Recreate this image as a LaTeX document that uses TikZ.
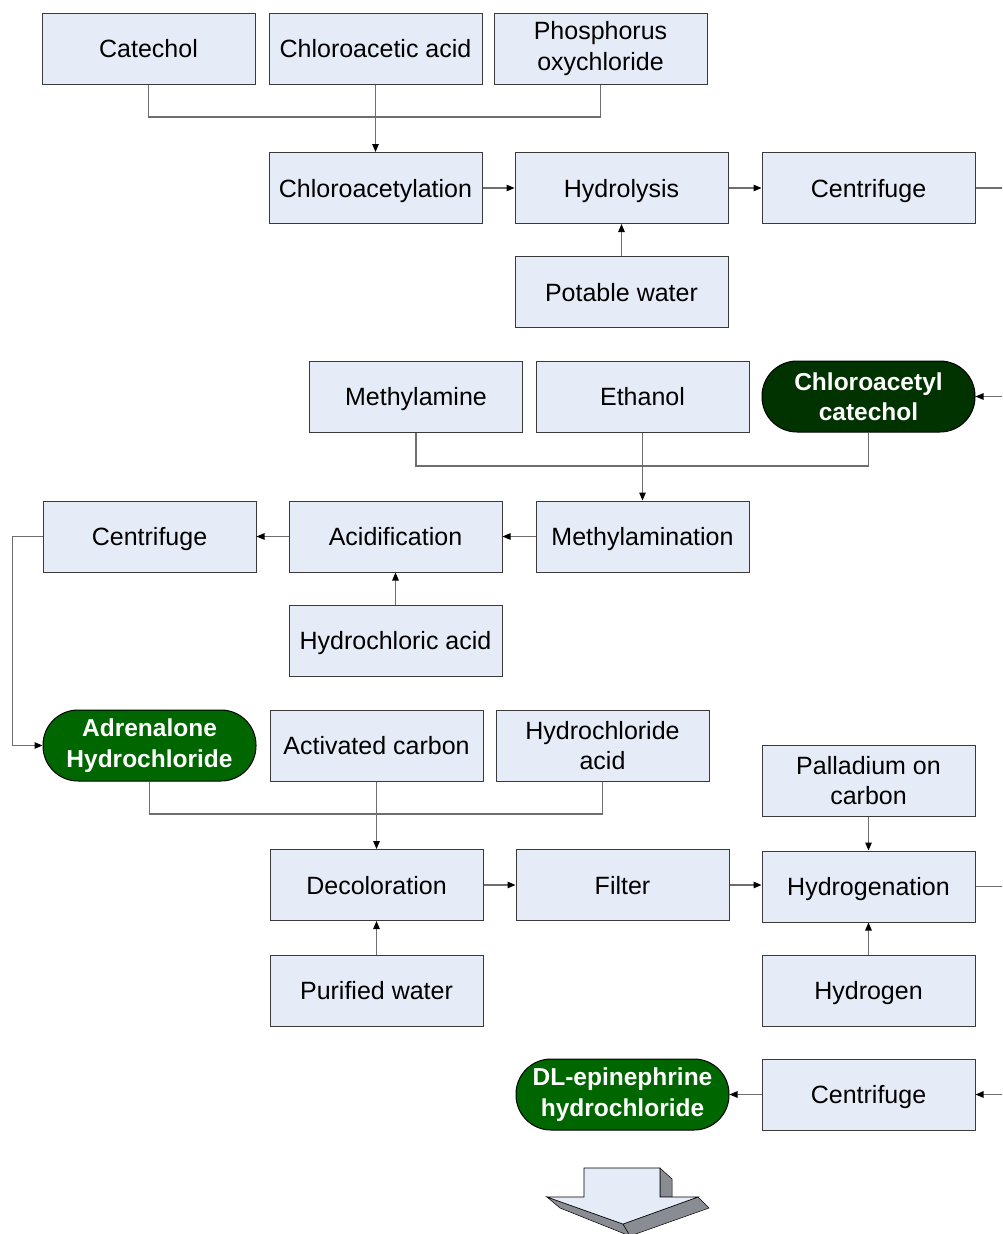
\documentclass[tikz,border=0pt]{standalone}
\usepackage{fontspec}
\setmainfont{Liberation Sans}
\usetikzlibrary{arrows.meta,calc}
\definecolor{boxfill}{HTML}{E6ECF7}
\definecolor{boxline}{HTML}{3A3A3A}
\definecolor{conncol}{HTML}{6E6E6E}
\definecolor{darkgreen}{HTML}{003300}
\definecolor{midgreen}{HTML}{006600}
\definecolor{arrside}{HTML}{8A8C94}
\tikzset{
  procbox/.style={draw=boxline, fill=boxfill, line width=1pt, minimum width=213pt, minimum height=71pt, inner sep=0pt, align=center, font=\fontsize{25}{30.5}\selectfont},
  onebox/.style={procbox, text height=18pt, text depth=0pt},
  prodbox/.style={draw=black, line width=1pt, minimum width=213pt, minimum height=71pt, inner sep=0pt, rounded corners=35pt, align=center, text=white, font=\fontsize{24.5}{30.5}\selectfont\bfseries},
  conn/.style={draw=conncol, line width=1.2pt},
  arr/.style={conn, -{Triangle[length=8pt,width=6.5pt,color=black]}},
}
\begin{document}
\begin{tikzpicture}[x=1pt,y=-1pt]
\useasboundingbox (0,0) rectangle (1002,1234);
\clip (0,0) rectangle (1002,1234);
% row 1
\node[onebox] (catechol) at (148.5,48.5) {Catechol};
\node[onebox] (chloroacetic) at (375.5,48.5) {Chloroacetic acid};
\node[procbox] (phosphorus) at (600.5,48.5) {Phosphorus\\oxychloride};
\coordinate (j1) at (375.5,117);
% row 2
\node[onebox] (chloroacetylation) at (375.5,188) {Chloroacetylation};
\node[onebox] (hydrolysis) at (621.5,188) {Hydrolysis};
\node[onebox] (centrifugeA) at (868.5,188) {Centrifuge};
\node[onebox] (potable) at (621.5,292) {Potable water};
% row 3
\node[onebox] (methylamine) at (416,396.5) {Methylamine};
\node[onebox] (ethanol) at (642.5,396.5) {Ethanol};
\node[prodbox, fill=darkgreen] (clcatechol) at (868.5,396.5) {Chloroacetyl\\catechol};
\coordinate (j2) at (642.5,466);
% row 4
\node[onebox] (centrifugeB) at (149.5,536.5) {Centrifuge};
\node[onebox] (acidification) at (395.5,536.5) {Acidification};
\node[onebox] (methylamination) at (642.5,536.5) {Methylamination};
\node[onebox] (hcl) at (395.5,640.5) {Hydrochloric acid};
% row 5
\node[prodbox, fill=midgreen] (adrenalone) at (149.5,745.5) {Adrenalone\\Hydrochloride};
\node[onebox] (carbon) at (376.5,745.5) {Activated carbon};
\node[procbox] (hclacid) at (602.5,745.5) {Hydrochloride\\acid};
\node[procbox] (palladium) at (868.5,780.5) {Palladium on\\carbon};
\coordinate (j3) at (376.5,814);
% row 6
\node[onebox] (decoloration) at (376.5,885) {Decoloration};
\node[onebox] (filter) at (622.5,885) {Filter};
\node[onebox] (hydrogenation) at (868.5,886.5) {Hydrogenation};
\node[onebox] (purified) at (376.5,990.5) {Purified water};
\node[onebox] (hydrogen) at (868.5,990.5) {Hydrogen};
% row 7
\node[onebox] (centrifugeC) at (868.5,1094.5) {Centrifuge};
\node[prodbox, fill=midgreen] (dl) at (622.5,1094.5) {DL-epinephrine\\hydrochloride};
% connectors
\draw[conn] (catechol.south) |- (j1) -| (phosphorus.south);
\draw[arr] (chloroacetic.south) -- (chloroacetylation.north);
\draw[arr] (chloroacetylation.east) -- (hydrolysis.west);
\draw[arr] (hydrolysis.east) -- (centrifugeA.west);
\draw[arr] (potable.north) -- (hydrolysis.south);
\draw[arr] (centrifugeA.east) -- ++(45,0) |- (clcatechol.east);
\draw[conn] (methylamine.south) |- (j2) -| (clcatechol.south);
\draw[arr] (ethanol.south) -- (methylamination.north);
\draw[arr] (methylamination.west) -- (acidification.east);
\draw[arr] (acidification.west) -- (centrifugeB.east);
\draw[arr] (hcl.north) -- (acidification.south);
\draw[arr] (centrifugeB.west) -- ++(-30,0) |- (adrenalone.west);
\draw[conn] (adrenalone.south) |- (j3) -| (hclacid.south);
\draw[arr] (carbon.south) -- (decoloration.north);
\draw[arr] (decoloration.east) -- (filter.west);
\draw[arr] (filter.east) -- (filter.east -| hydrogenation.west);
\draw[arr] (purified.north) -- (decoloration.south);
\draw[arr] (palladium.south) -- (hydrogenation.north);
\draw[arr] (hydrogen.north) -- (hydrogenation.south);
\draw[arr] (hydrogenation.east) -- ++(45,0) |- (centrifugeC.east);
\draw[arr] (centrifugeC.west) -- (dl.east);
% 3D block arrow
\fill[arrside, draw=black, line width=0.5pt] (660,1168) -- (672,1179) -- (672,1197) -- (660,1197) -- cycle;
\fill[arrside, draw=black, line width=0.5pt] (547,1197) -- (560,1208) -- (630,1236) -- (623,1224) -- cycle;
\fill[arrside, draw=black, line width=0.5pt] (623,1224) -- (698,1197) -- (709,1208) -- (630,1236) -- cycle;
\filldraw[fill=boxfill, draw=black, line width=0.6pt] (584,1168) -- (660,1168) -- (660,1197) -- (698,1197) -- (623,1224) -- (547,1197) -- (584,1197) -- cycle;
\end{tikzpicture}
\end{document}
